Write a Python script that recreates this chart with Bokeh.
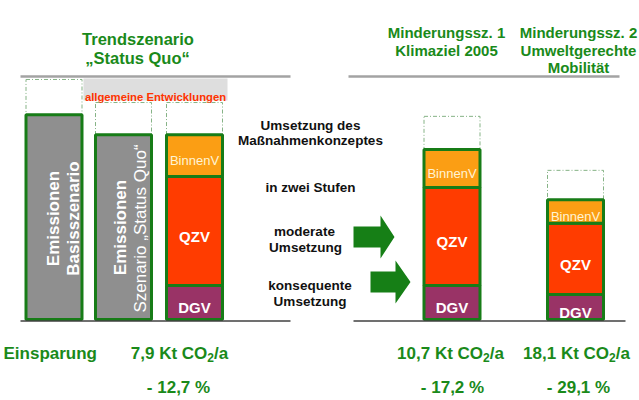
import math
from bokeh.plotting import figure
from bokeh.models import Range1d, ColumnDataSource
from bokeh.core.properties import value
from bokeh.embed import file_html
from bokeh.resources import INLINE

# ---------------- data (Kt CO2/a) ----------------
gray_labels = [("Emissionen", "Basisszenario"), ("Emissionen", "Szenario „Status Quo“")]
gray_totals = [62.2, 56.1]                      # Basisszenario, Status Quo
sectors = ["DGV", "QZV", "BinnenV"]
dgv = [10.3, 10.3, 7.6]                         # Status Quo, Klimaziel 2005, Umweltgerechte Mobilität
qzv = [33.1, 29.8, 21.6]
binnenv = [12.7, 11.5, 7.2]
dashed_tops = [72.9, 65.9, 65.9, 61.7, 45.3]    # dotted reference boxes above the bars
savings_kt = ["7,9", "10,7", "18,1"]
savings_pct = ["- 12,7 %", "- 17,2 %", "- 29,1 %"]
titles_left = ["Trendszenario", "„Status Quo“"]
titles_mid = ["Minderungssz. 1", "Klimaziel 2005"]
titles_right = ["Minderungssz. 2", "Umweltgerechte", "Mobilität"]
notes = ["Umsetzung des", "Maßnahmenkonzeptes", "in zwei Stufen", "moderate", "Umsetzung",
         "konsequente", "Umsetzung"]

# ---------------- layout / style ----------------
W, H = 639, 400
Y0 = 319.0            # page pixel row of value 0
K = 62.2 / 204.8      # Kt per pixel


def Y(py):
    return (Y0 - py) * K


X_BARS = [53.5, 123, 194, 451.5, 575]
BAR_W = 56
FONT = value("Liberation Sans")
GREEN_TXT = "#1a8a1a"
GREEN_LINE = "#177c17"
GRAY_BAR = "#8f8f8f"
COLORS = {"DGV": "#993366", "QZV": "#ff3c00", "BinnenV": "#fb9e14"}

p = figure(width=W, height=H, x_range=Range1d(0, W), y_range=Range1d(Y(H), Y(0)),
           output_backend="svg", toolbar_location=None, x_axis_location=None,
           y_axis_location=None, min_border=0, outline_line_color=None)
p.grid.visible = False
p.background_fill_color = "white"

# top separator lines
p.segment(x0=[20, 348], x1=[290, 619], y0=[Y(76)] * 2, y1=[Y(76)] * 2,
          line_color="#a3a3a3", line_width=2.5)

# "allgemeine Entwicklungen" box
p.quad(left=[83], right=[227], top=[Y(78)], bottom=[Y(100)], fill_color="#dedede", line_color=None)
p.text(x=[155], y=[Y(96.5)], text=["allgemeine Entwicklungen"], text_font=FONT,
       text_font_style="bold", text_font_size="11.3px", text_color="#ff3300",
       text_align="center", text_baseline="alphabetic")

# dotted boxes above bars
stack_totals = [a + b + c for a, b, c in zip(dgv, qzv, binnenv)]
bottoms = gray_totals + stack_totals
p.quad(left=[x - BAR_W / 2 for x in X_BARS], right=[x + BAR_W / 2 for x in X_BARS],
       top=dashed_tops, bottom=bottoms, fill_color=None, line_color="#86b386",
       line_width=1, line_dash="4 2 1 2")

# gray bars
p.vbar(x=X_BARS[:2], top=gray_totals, bottom=0, width=BAR_W, fill_color=GRAY_BAR,
       line_color=GREEN_LINE, line_width=3)

# stacked sector bars
src = ColumnDataSource(dict(x=X_BARS[2:], DGV=dgv, QZV=qzv, BinnenV=binnenv))
p.vbar_stack(sectors, x="x", width=BAR_W, source=src,
             fill_color=[COLORS[s] for s in sectors], line_color=GREEN_LINE, line_width=3)

# baselines
p.segment(x0=[20, 353], x1=[290, 625], y0=[Y(320.5)] * 2, y1=[Y(320.5)] * 2,
          line_color="#404040", line_width=1.3)


# arrows
def arrow(tail, tip, cy, bh, hh, hl):
    xs = [tail, tip - hl, tip - hl, tip, tip - hl, tip - hl, tail]
    ys = [cy - bh, cy - bh, cy - hh, cy, cy + hh, cy + bh, cy + bh]
    return xs, [Y(v) for v in ys]


a1 = arrow(353, 394, 236.5, 10.5, 21.5, 14)
a2 = arrow(370, 410, 281.5, 10.5, 21.5, 15)
p.patches(xs=[a1[0], a2[0]], ys=[a1[1], a2[1]], fill_color="#167f16", line_color=None)

# vertical labels in gray bars
p.text(x=[53, 120], y=[Y(218), Y(227)], text=[gray_labels[0][0], gray_labels[1][0]],
       angle=math.pi / 2, text_font=FONT, text_font_style="bold", text_font_size="17px",
       text_color="white", text_align="center", text_baseline="alphabetic")
p.text(x=[73], y=[Y(218)], text=[gray_labels[0][1]],
       angle=math.pi / 2, text_font=FONT, text_font_style="bold", text_font_size="17px",
       text_color="white", text_align="center", text_baseline="alphabetic")
p.text(x=[139.5], y=[Y(228)], text=[gray_labels[1][1]],
       angle=math.pi / 2, text_font=FONT, text_font_size="17px",
       text_color="white", text_align="center", text_baseline="alphabetic")

# sector labels centred in segments
lx, ly, lt, lsz, lst, lcol = [], [], [], [], [], []
for i, x in enumerate(X_BARS[2:]):
    base = 0.0
    for s, vals in zip(sectors, [dgv, qzv, binnenv]):
        mid = base + vals[i] / 2
        base += vals[i]
        fs = 13 if s == "BinnenV" else 15
        lx.append(x)
        ly.append(mid - 0.358 * fs * K)
        lt.append(s)
        lsz.append(f"{fs}px")
        lst.append("normal" if s == "BinnenV" else "bold")
        lcol.append("#fff4d4" if s == "BinnenV" else "white")
p.text(x="x", y="y", text="t", source=ColumnDataSource(dict(x=lx, y=ly, t=lt, s=lsz, st=lst, c=lcol)),
       text_font=FONT, text_font_size="s", text_font_style="st", text_color="c",
       text_align="center", text_baseline="alphabetic")

# titles
p.text(x=[137.5, 137], y=[Y(38), Y(57)], text=titles_left, text_font=FONT, text_font_style="bold",
       text_font_size="16.5px", text_color=GREEN_TXT, text_align="center", text_baseline="alphabetic")
p.text(x=[446, 446], y=[Y(32), Y(49.5)], text=titles_mid, text_font=FONT, text_font_style="bold",
       text_font_size="15px", text_color=GREEN_TXT, text_align="center", text_baseline="alphabetic")
p.text(x=[578, 578, 578], y=[Y(32), Y(49.5), Y(67)], text=titles_right, text_font=FONT,
       text_font_style="bold", text_font_size="15px", text_color=GREEN_TXT, text_align="center",
       text_baseline="alphabetic")

# black notes
p.text(x=[310, 310, 310, 304, 305, 309.5, 309.5],
       y=[Y(v) for v in [125, 140, 187, 231, 246.5, 285, 301]], text=notes,
       text_font=FONT, text_font_style="bold", text_font_size="13.5px", text_color="#111111",
       text_align="center", text_baseline="alphabetic")

# bottom rows
p.text(x=[3], y=[Y(353)], text=["Einsparung"], text_font=FONT, text_font_style="bold",
       text_font_size="17px", text_color=GREEN_TXT, text_align="left", text_baseline="alphabetic")

AB = {' ': 278, ',': 278, '-': 333, '/': 278, '%': 889, 'C': 722, 'K': 722, 'O': 778,
      'a': 556, 't': 333}


def tw(s, fs):
    return sum(AB.get(c, 556) for c in s) * fs / 1000.0


mx, mt, sx, ax = [], [], [], []
for cx, v in zip([179, 450, 576], savings_kt):
    main = f"{v} Kt CO"
    total = tw(main, 17) + tw("2", 12) + tw("/a", 17)
    left = cx - total / 2
    mx.append(left)
    mt.append(main)
    sx.append(left + tw(main, 17))
    ax.append(left + tw(main, 17) + tw("2", 12))
p.text(x=mx, y=[Y(353)] * 3, text=mt, text_font=FONT, text_font_style="bold", text_font_size="17px",
       text_color=GREEN_TXT, text_align="left", text_baseline="alphabetic")
p.text(x=sx, y=[Y(357)] * 3, text=["2"] * 3, text_font=FONT, text_font_style="bold",
       text_font_size="12px", text_color=GREEN_TXT, text_align="left", text_baseline="alphabetic")
p.text(x=ax, y=[Y(353)] * 3, text=["/a"] * 3, text_font=FONT, text_font_style="bold",
       text_font_size="17px", text_color=GREEN_TXT, text_align="left", text_baseline="alphabetic")
p.text(x=[178, 452, 578], y=[Y(387)] * 3, text=savings_pct, text_font=FONT, text_font_style="bold",
       text_font_size="17px", text_color=GREEN_TXT, text_align="center", text_baseline="alphabetic")

open("out.html", "w").write(file_html(p, INLINE))
